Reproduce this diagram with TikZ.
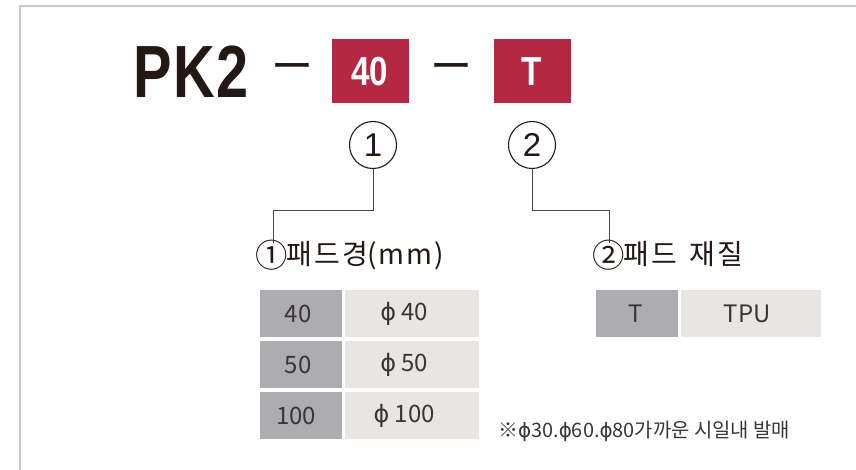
\documentclass[tikz,border=0pt]{standalone}
\usepackage{fontspec}
\setmainfont{Liberation Sans}
\newfontfamily\kr{Noto Sans CJK KR}
\newfontfamily\krsp{Noto Sans CJK KR}[LetterSpace=7]
\newfontfamily\krwide{Noto Sans CJK KR}[LetterSpace=6]
\newfontfamily\dv{DejaVu Sans}
\definecolor{crimson}{HTML}{B42842}
\definecolor{cellA}{HTML}{ADACB0}
\definecolor{cellB}{HTML}{E8E6E4}
\definecolor{ink}{HTML}{231815}
\definecolor{txt}{HTML}{3A3636}
\definecolor{frame}{HTML}{C8C8C8}
\definecolor{wire}{HTML}{4A4646}
\tikzset{
  redbox/.style={fill=crimson, text=white, minimum width=77pt, minimum height=64pt, inner sep=0pt},
  numcirc/.style={circle, draw=ink, line width=1.1pt, minimum size=47pt, inner sep=0pt, text=ink},
  cellgray/.style={fill=cellA, anchor=north west, inner sep=0pt, text=txt},
  celllight/.style={fill=cellB, anchor=north west, inner sep=0pt, text=txt},
  wireline/.style={draw=wire, line width=0.9pt},
  lbl/.style={anchor=base west, inner sep=0pt, text=ink},
  dashtxt/.style={inner sep=0pt, text=ink}
}
\newcommand{\phisym}{{\dv\symbol{"03D5}}}
\newcommand{\cellfont}{\kr\fontsize{24}{24}\selectfont}
\newcommand{\circnum}[1]{\kern-2pt\raisebox{-2.5pt}{\scalebox{1.2}{\kr\fontsize{27}{27}\selectfont #1}}\kern-1pt}
\begin{document}
\begin{tikzpicture}[x=1pt,y=-1pt]
\useasboundingbox (0,0) rectangle (856,470);
% frame
\draw[frame, line width=2.4pt] (20,470) -- (20,6.2) -- (856,6.2);
% title
\node[inner sep=0pt, text=ink] (pk) at (191,71.5) {\scalebox{0.78}[1]{\fontsize{74}{74}\selectfont\bfseries P\kern2pt K\kern2pt 2}};
\node[dashtxt] (d1) at (292,72) {\kr\fontsize{42}{42}\selectfont ー};
\node[redbox] (b1) at (370,71.5) {\scalebox{0.82}[1]{\fontsize{40.5}{40}\selectfont\bfseries 40}};
\node[dashtxt] (d2) at (451,72) {\kr\fontsize{42}{42}\selectfont ー};
\node[redbox] (b2) at (532,71.5) {\scalebox{0.82}[1]{\fontsize{40.5}{40}\selectfont\bfseries T}};
% circles
\node[numcirc] (c1) at (373,145) {\fontsize{33}{33}\selectfont 1};
\node[numcirc] (c2) at (532,145) {\fontsize{33}{33}\selectfont 2};
% labels
\node[lbl] (l1) at (257,265) {\circnum{①}{\krsp\fontsize{28}{28}\selectfont 패드경}{\krwide\fontsize{28}{28}\selectfont (mm)}};
\node[lbl] (l2) at (594,265) {\circnum{②}{\krsp\fontsize{28}{28}\selectfont 패드\kern4pt{} 재질}};
% connectors
\coordinate (k1) at (273,210);
\coordinate (e1) at (273,243);
\coordinate (k2) at (609,210);
\coordinate (e2) at (609,243);
\draw[wireline] (c1.south) |- (k1) -- (e1);
\draw[wireline] (c2.south) |- (k2) -- (e2);
% table 1
\node[cellgray, minimum width=82pt, minimum height=47pt] (a1) at (260,290) {\cellfont 40\kern6pt};
\node[celllight, minimum width=134pt, minimum height=47pt] (b1c) at (345,290) {\cellfont \phisym\ 40\kern16pt};
\node[cellgray, minimum width=82pt, minimum height=47pt] (a2) at (260,341) {\cellfont 50\kern6pt};
\node[celllight, minimum width=134pt, minimum height=47pt] (b2c) at (345,341) {\cellfont \phisym\ 50\kern16pt};
\node[cellgray, minimum width=82pt, minimum height=47pt] (a3) at (260,392) {\cellfont 100\kern10pt};
\node[celllight, minimum width=134pt, minimum height=47pt] (b3c) at (345,392) {\cellfont \phisym\ 100\kern16pt};
% table 2
\node[cellgray, minimum width=82pt, minimum height=47pt] (t1) at (596,290) {\cellfont T\kern4pt};
\node[celllight, minimum width=140pt, minimum height=47pt] (t2) at (681,290) {\cellfont TPU\kern8pt};
% note
\node[lbl, text=txt] (note) at (498,437) {\kr\fontsize{19.9}{19.9}\selectfont ※\phisym 30.\phisym 60.\phisym 80가까운 시일내 발매};
\end{tikzpicture}
\end{document}
